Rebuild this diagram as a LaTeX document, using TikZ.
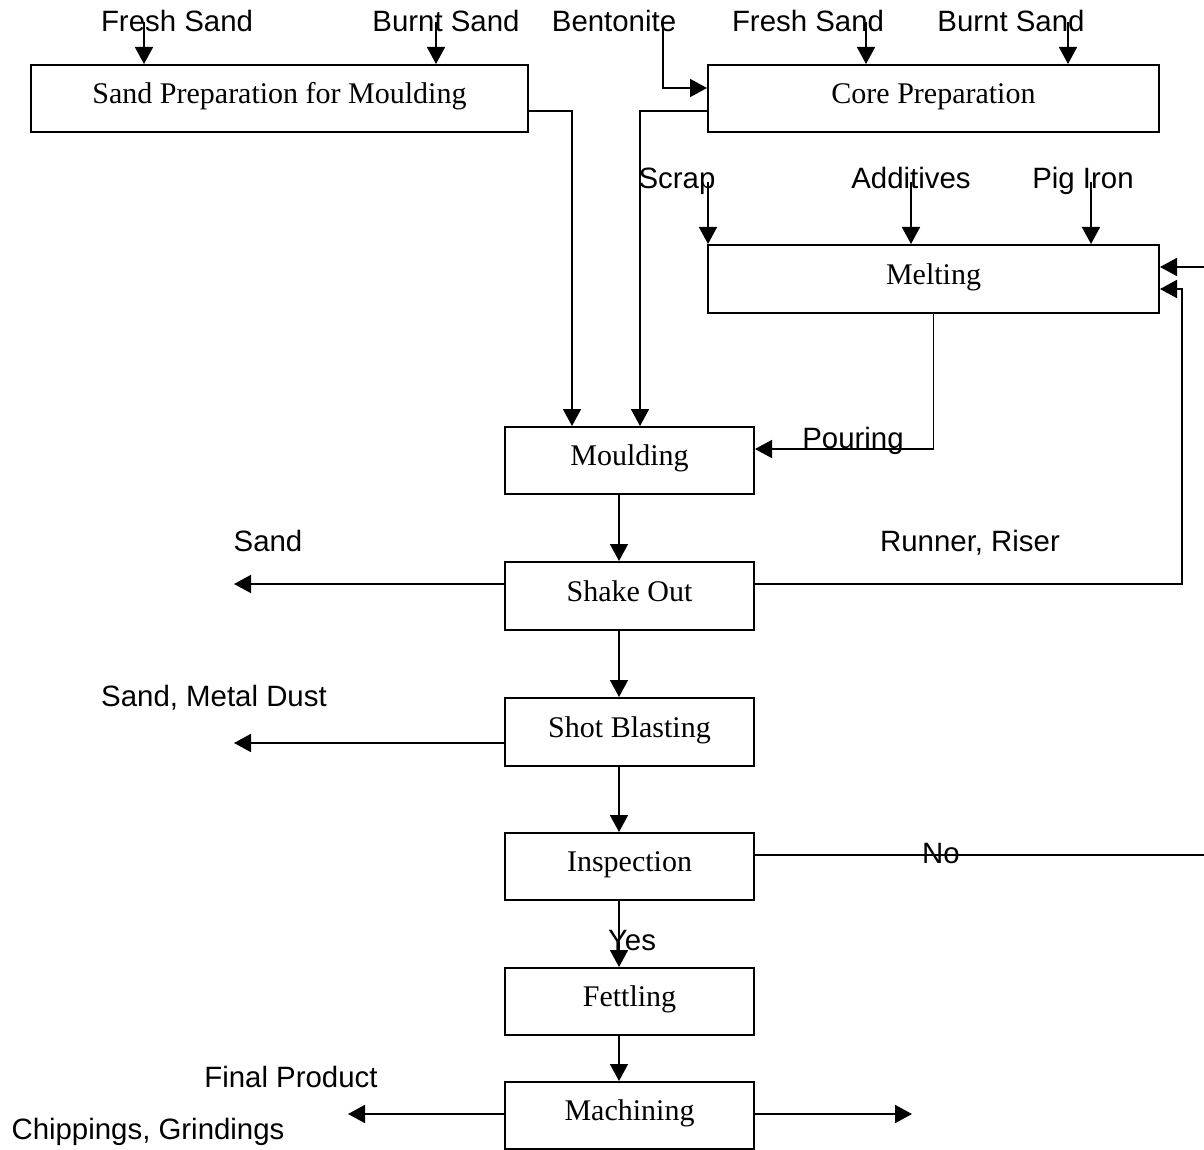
\documentclass[tikz,border=0pt]{standalone}
\usepackage{fontspec}
\usetikzlibrary{arrows.meta,calc}
\newfontfamily\labelfont{Liberation Sans}
\newfontfamily\boxfont{Liberation Serif}

\begin{document}
\begin{tikzpicture}[x=0.5pt,y=-0.5pt,
  proc/.style={draw, line width=1pt, inner sep=0pt,
    font=\boxfont\fontsize{15}{18}\selectfont, text height=10pt, text depth=4.56pt},
  wide/.style={minimum width=225.5pt},
  narrow/.style={minimum width=124.5pt},
  lab/.style={font=\labelfont\fontsize{14.7}{17}\selectfont, anchor=base, inner sep=0pt},
  flow/.style={line width=0.85pt, -{Triangle[length=8.5pt,width=9pt]}}]

\useasboundingbox (0,0) rectangle (1204,1150);
\clip (0,0) rectangle (1204,1150);

% process boxes
\node[proc, minimum width=248.5pt, minimum height=33.5pt] (sandprep) at (279.5,98.5) {Sand Preparation for Moulding};
\node[proc, wide, minimum height=33.5pt] (coreprep) at (933.5,98.5) {Core Preparation};
\node[proc, wide, minimum height=34pt] (melting) at (933.5,279) {Melting};
\node[proc, narrow, minimum height=33.5pt] (moulding) at (629.5,460.5) {Moulding};
\node[proc, narrow, minimum height=34pt] (shakeout) at (629.5,596) {Shake Out};
\node[proc, narrow, minimum height=34pt] (shotblast) at (629.5,732) {Shot Blasting};
\node[proc, narrow, minimum height=33.5pt] (inspection) at (629.5,866.5) {Inspection};
\node[proc, narrow, minimum height=33.5pt] (fettling) at (629.5,1001.5) {Fettling};
\node[proc, narrow, minimum height=33.5pt] (machining) at (629.5,1115.5) {Machining};

% input and output labels
\node[lab] (lfs1) at (177,31.5) {Fresh Sand};
\node[lab] (lbs1) at (446,31.5) {Burnt Sand};
\node[lab] (lbent) at (614,31.5) {Bentonite};
\node[lab] (lfs2) at (808,31.5) {Fresh Sand};
\node[lab] (lbs2) at (1011,31.5) {Burnt Sand};
\node[lab] (lscrap) at (677,188.5) {Scrap};
\node[lab] (ladd) at (911,188.5) {Additives};
\node[lab] (lpig) at (1083,188.5) {Pig Iron};
\node[lab] (lpour) at (853,448.5) {Pouring};
\node[lab] (lsand) at (268,551.5) {Sand};
\node[lab] (lrunner) at (970,551.5) {Runner, Riser};
\node[lab] (lmetal) at (214,706.5) {Sand, Metal Dust};
\node[lab] (lno) at (941,863.5) {No};
\node[lab] (lyes) at (632,950.5) {Yes};
\node[lab] (lfinal) at (291,1087.5) {Final Product};
\node[lab] (lchip) at (148,1139.5) {Chippings, Grindings};

% feed points and connector columns
\coordinate (fs1) at (144,22);
\coordinate (bs1) at (436,22);
\coordinate (bent) at (663,22);
\coordinate (fs2) at (866,22);
\coordinate (bs2) at (1068,22);
\coordinate (scrap) at (708,182);
\coordinate (add) at (911,182);
\coordinate (pig) at (1091,182);
\coordinate (colA) at (572,0);
\coordinate (colB) at (640,0);
\coordinate (colC) at (619,0);
\coordinate (retA) at (1216,0);
\coordinate (retB) at (1182,0);
\coordinate (meltA) at ([yshift=6pt]melting.east);
\coordinate (meltB) at ([yshift=-5pt]melting.east);
\coordinate (sandout) at (234,584);
\coordinate (dustout) at (234,743);
\coordinate (chipout) at (348,1114);
\coordinate (prodout) at (912,1114);

% raw materials
\draw[flow] (fs1) -- (fs1 |- sandprep.north);
\draw[flow] (bs1) -- (bs1 |- sandprep.north);
\draw[flow] (bent) |- ([yshift=5.25pt]coreprep.west);
\draw[flow] (fs2) -- (fs2 |- coreprep.north);
\draw[flow] (bs2) -- (bs2 |- coreprep.north);
\draw[flow] (scrap) -- (scrap |- melting.north);
\draw[flow] (add) -- (add |- melting.north);
\draw[flow] (pig) -- (pig |- melting.north);

% main process flow
\draw[flow] ([yshift=-6.25pt]sandprep.east) -| (colA |- moulding.north);
\draw[flow] ([yshift=-6.25pt]coreprep.west) -| (colB |- moulding.north);
\draw[flow] (melting.south) |- ([yshift=5.75pt]moulding.east);
\draw[flow] (colC |- moulding.south) -- (colC |- shakeout.north);
\draw[flow] (colC |- shakeout.south) -- (colC |- shotblast.north);
\draw[flow] (colC |- shotblast.south) -- (colC |- inspection.north);
\draw[flow] (colC |- inspection.south) -- (colC |- fettling.north);
\draw[flow] (colC |- fettling.south) -- (colC |- machining.north);

% by-products and returns
\draw[flow] ([yshift=6pt]shakeout.west) -- (sandout);
\draw[flow] ([yshift=6pt]shakeout.east) -| (retB |- meltB) -- (meltB);
\draw[flow] ([yshift=-5.5pt]shotblast.west) -- (dustout);
\draw[flow] ([yshift=5.75pt]inspection.east) -| (retA |- meltA) -- (meltA);
\draw[flow] ([yshift=0.75pt]machining.west) -- (chipout);
\draw[flow] ([yshift=0.75pt]machining.east) -- (prodout);
\end{tikzpicture}
\end{document}
